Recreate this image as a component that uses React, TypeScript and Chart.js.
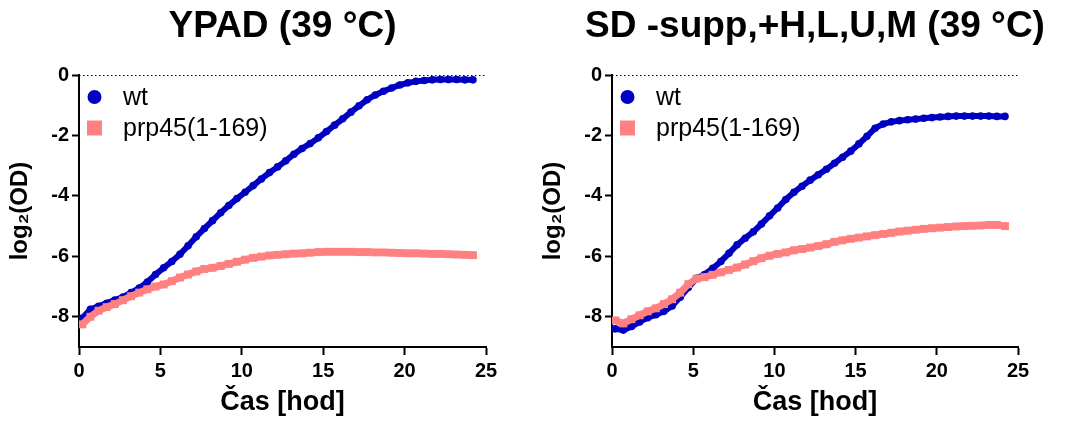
import React, { useEffect, useRef } from "react";
import { Chart, registerables } from "chart.js";

Chart.register(...registerables);

const FONT = "'Liberation Sans', Arial, Helvetica, sans-serif";

// time points [h]
const TIMES = [0.2, 0.7, 1.2, 1.7, 2.2, 2.7, 3.2, 3.7, 4.2, 4.7, 5.2, 5.7, 6.2, 6.7, 7.2, 7.7, 8.2, 8.7, 9.2, 9.7, 10.2, 10.7, 11.2, 11.7, 12.2, 12.7, 13.2, 13.7, 14.2, 14.7, 15.2, 15.7, 16.2, 16.7, 17.2, 17.7, 18.2, 18.7, 19.2, 19.7, 20.2, 20.7, 21.2, 21.7, 22.2, 22.7, 23.2, 23.7, 24.2];

// YPAD (39 °C)
const YPAD_WT = [-8.05, -7.75, -7.65, -7.55, -7.45, -7.35, -7.2, -7.05, -6.85, -6.6, -6.38, -6.17, -5.93, -5.65, -5.35, -5.08, -4.82, -4.56, -4.32, -4.09, -3.88, -3.66, -3.44, -3.23, -3.04, -2.84, -2.62, -2.43, -2.27, -2.08, -1.87, -1.66, -1.45, -1.23, -1.02, -0.82, -0.66, -0.54, -0.43, -0.33, -0.26, -0.21, -0.18, -0.16, -0.15, -0.15, -0.15, -0.16, -0.16];
const YPAD_PRP45 = [-8.25, -8.0, -7.8, -7.68, -7.58, -7.45, -7.32, -7.2, -7.09, -7.0, -6.93, -6.82, -6.7, -6.6, -6.5, -6.42, -6.38, -6.32, -6.25, -6.18, -6.11, -6.05, -6.01, -5.97, -5.95, -5.93, -5.91, -5.9, -5.88, -5.86, -5.85, -5.85, -5.85, -5.85, -5.86, -5.86, -5.87, -5.87, -5.88, -5.89, -5.9, -5.9, -5.91, -5.92, -5.92, -5.93, -5.94, -5.95, -5.96];

// SD -supp,+H,L,U,M (39 °C)
const SD_WT = [-8.4, -8.44, -8.32, -8.17, -8.03, -7.93, -7.82, -7.64, -7.35, -7.03, -6.73, -6.6, -6.4, -6.17, -5.9, -5.62, -5.4, -5.19, -4.93, -4.66, -4.4, -4.12, -3.88, -3.68, -3.48, -3.3, -3.12, -2.92, -2.72, -2.52, -2.28, -2.03, -1.76, -1.62, -1.55, -1.51, -1.48, -1.46, -1.43, -1.41, -1.39, -1.37, -1.36, -1.36, -1.36, -1.36, -1.36, -1.37, -1.37];
const SD_PRP45 = [-8.12, -8.22, -8.08, -7.95, -7.82, -7.72, -7.58, -7.42, -7.2, -6.92, -6.74, -6.69, -6.61, -6.53, -6.45, -6.37, -6.27, -6.16, -6.06, -5.98, -5.92, -5.87, -5.8, -5.76, -5.71, -5.66, -5.6, -5.52, -5.47, -5.42, -5.38, -5.34, -5.3, -5.26, -5.22, -5.18, -5.15, -5.12, -5.09, -5.07, -5.05, -5.03, -5.01, -5.0, -4.99, -4.98, -4.96, -4.96, -5.0];

const SERIES_LABELS = ["wt", "prp45(1-169)"];
const PANEL_TITLES = ["YPAD (39 °C)", "SD -supp,+H,L,U,M (39 °C)"];
const X_TICKS = [0, 5, 10, 15, 20, 25];
const Y_TICKS = [-8, -6, -4, -2, 0];
const X_TITLE = "Čas [hod]";
const Y_TITLE = "log₂(OD)";

const BLUE = "#0000C0";
const PINK = "#FF8080";

const zeroLine = {
  id: "zeroLine",
  beforeDatasetsDraw(chart: any) {
    const { ctx, chartArea, scales } = chart;
    const y = Math.round(scales.y.getPixelForValue(0)) + 0.5;
    ctx.save();
    ctx.strokeStyle = "#000";
    ctx.lineWidth = 1;
    ctx.setLineDash([1.5, 2.5]);
    ctx.beginPath();
    ctx.moveTo(chartArea.left, y);
    ctx.lineTo(chartArea.right, y);
    ctx.stroke();
    ctx.restore();
  },
};

const insideLegend = {
  id: "insideLegend",
  afterDraw(chart: any) {
    const { ctx, chartArea } = chart;
    const ds = chart.data.datasets;
    ctx.save();
    ctx.font = `25px ${FONT}`;
    ctx.textBaseline = "middle";
    ctx.textAlign = "left";
    ds.forEach((d: any, i: number) => {
      const cx = chartArea.left + 15.5;
      const cy = chartArea.top + 22 + i * 31;
      ctx.fillStyle = d.backgroundColor;
      if (d.pointStyle === "rect") {
        ctx.fillRect(cx - 7.5, cy - 7.5, 15, 15);
      } else {
        ctx.beginPath();
        ctx.arc(cx, cy, 7, 0, Math.PI * 2);
        ctx.fill();
      }
      ctx.fillStyle = "#000";
      ctx.fillText(d.label, chartArea.left + 44, cy + 1);
    });
    ctx.restore();
  },
};

function Panel({ title, wt, mut, left, width }: { title: string; wt: number[]; mut: number[]; left: number; width: number }) {
  const ref = useRef<HTMLCanvasElement | null>(null);
  useEffect(() => {
    if (!ref.current) return;
    const chart = new Chart(ref.current, {
      type: "scatter",
      data: {
        datasets: [
          {
            label: SERIES_LABELS[0],
            data: TIMES.map((t, i) => ({ x: t, y: wt[i] })),
            showLine: true,
            borderColor: BLUE,
            backgroundColor: BLUE,
            borderWidth: 6,
            pointStyle: "circle",
            pointRadius: 3.8,
            pointBorderWidth: 0,
            order: 2,
          },
          {
            label: SERIES_LABELS[1],
            data: TIMES.map((t, i) => ({ x: t, y: mut[i] })),
            showLine: true,
            borderColor: PINK,
            backgroundColor: PINK,
            borderWidth: 7,
            borderCapStyle: "butt",
            pointStyle: "rect",
            pointRadius: 5.6,
            pointBorderWidth: 0,
            order: 1,
          },
        ] as any,
      },
      options: {
        responsive: false,
        animation: false,
        devicePixelRatio: 1,
        layout: { padding: 0 },
        plugins: {
          legend: { display: false },
          tooltip: { enabled: false },
          title: {
            display: true,
            text: title,
            color: "#000",
            font: { family: FONT, size: 37, weight: "bold", lineHeight: 1.2 },
            padding: { top: 5, bottom: 25.6 },
          },
        },
        scales: {
          x: {
            type: "linear",
            min: 0,
            max: 25,
            afterBuildTicks: (s: any) => {
              s.ticks = X_TICKS.map((v) => ({ value: v }));
            },
            ticks: { color: "#000", font: { family: FONT, size: 20, weight: "bold" }, padding: 4, maxRotation: 0, autoSkip: false },
            grid: { display: true, drawOnChartArea: false, drawTicks: true, tickLength: 8, tickWidth: 2, tickColor: "#000", color: "#000" },
            border: { display: true, color: "#000", width: 2 },
            title: { display: true, text: X_TITLE, color: "#000", font: { family: FONT, size: 27, weight: "bold", lineHeight: 1.2 }, padding: { top: 0, bottom: 4 } },
            afterFit: (s: any) => {
              s.height = 76;
              s.paddingLeft = 0;
              s.paddingRight = 0;
            },
          },
          y: {
            type: "linear",
            min: -9,
            max: 0,
            afterBuildTicks: (s: any) => {
              s.ticks = Y_TICKS.map((v) => ({ value: v }));
            },
            ticks: { color: "#000", font: { family: FONT, size: 20, weight: "bold" }, padding: 3, autoSkip: false },
            grid: { display: true, drawOnChartArea: false, drawTicks: true, tickLength: 7, tickWidth: 2, tickColor: "#000", color: "#000" },
            border: { display: true, color: "#000", width: 2 },
            title: { display: true, text: Y_TITLE, color: "#000", font: { family: FONT, size: 24, weight: "bold", lineHeight: 1.2 }, padding: { top: 6, bottom: 0 } },
            afterFit: (s: any) => {
              s.width = 79;
              s.paddingTop = 0;
              s.paddingBottom = 0;
            },
          },
          spacer: {
            type: "linear",
            position: "right",
            display: true,
            grid: { display: false, drawTicks: false },
            ticks: { display: false },
            border: { display: false },
            afterFit: (s: any) => {
              s.width = 79;
              s.paddingTop = 0;
              s.paddingBottom = 0;
            },
          },
        },
      } as any,
      plugins: [zeroLine, insideLegend],
    });
    return () => chart.destroy();
  }, [title, wt, mut]);
  return (
    <canvas
      ref={ref}
      width={width}
      height={423}
      style={{ position: "absolute", left, top: 0, width, height: 423 }}
    />
  );
}

export default function App() {
  return (
    <div style={{ position: "fixed", left: 0, top: 0, width: 1066, height: 423, overflow: "hidden", background: "#fff" }}>
      <Panel title={PANEL_TITLES[0]} wt={YPAD_WT} mut={YPAD_PRP45} left={0} width={565} />
      <Panel title={PANEL_TITLES[1]} wt={SD_WT} mut={SD_PRP45} left={533} width={564} />
    </div>
  );
}
